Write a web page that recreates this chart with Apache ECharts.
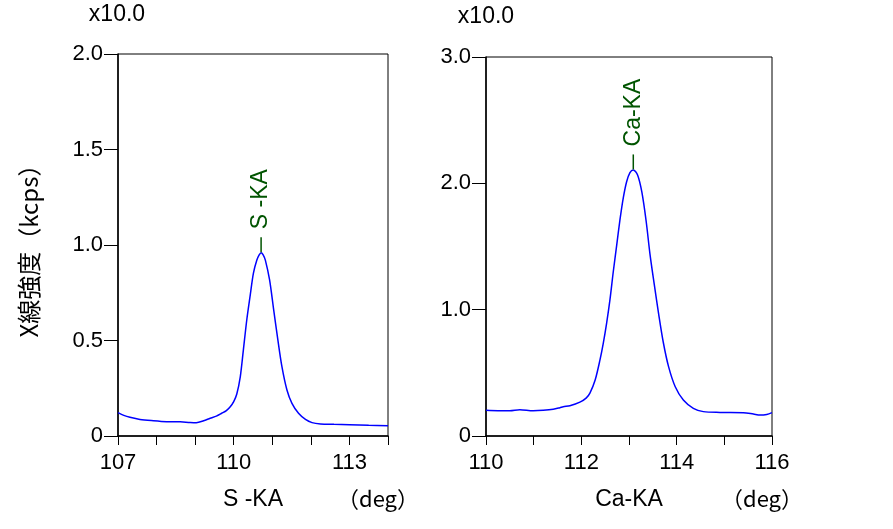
<!DOCTYPE html>
<html>
<head>
<meta charset="utf-8">
<script src="https://cdn.jsdelivr.net/npm/echarts@6/dist/echarts.min.js"></script>
<style>html,body{margin:0;padding:0;background:#fff;}#c{width:893px;height:529px;}</style>
</head>
<body>
<div id="c"></div>
<script>
// ---- data (intensity shown in units of x10.0 kcps) ----
const sAngle = [107.0,107.15,107.31,107.57,107.92,108.26,108.61,108.87,109.03,109.22,109.39,109.55,109.69,109.81,109.91,110.0,110.08,110.17,110.25,110.34,110.43,110.51,110.6,110.66,110.71,110.76,110.82,110.93,111.03,111.14,111.25,111.38,111.51,111.68,111.86,112.03,112.25,112.6,113.0,113.5,114.0];
const sIntensity = [0.122,0.108,0.098,0.087,0.080,0.075,0.074,0.071,0.070,0.080,0.093,0.104,0.119,0.133,0.153,0.180,0.220,0.310,0.45,0.610,0.74,0.852,0.921,0.948,0.960,0.950,0.921,0.817,0.67,0.51,0.363,0.241,0.171,0.119,0.087,0.070,0.063,0.061,0.059,0.056,0.054];
const caAngle = [110.0,110.25,110.5,110.71,110.99,111.2,111.41,111.55,111.62,111.76,111.97,112.1,112.18,112.29,112.39,112.46,112.53,112.6,112.67,112.74,112.81,112.88,112.95,113.02,113.09,113.18,113.27,113.36,113.44,113.53,113.62,113.72,113.83,113.97,114.14,114.35,114.56,114.91,115.4,115.61,115.75,115.89,116.0];
const caIntensity = [0.203,0.200,0.200,0.208,0.200,0.203,0.211,0.224,0.232,0.240,0.268,0.30,0.340,0.443,0.60,0.734,0.892,1.077,1.300,1.505,1.71,1.885,2.013,2.085,2.106,2.066,1.93,1.700,1.44,1.200,0.971,0.740,0.549,0.39,0.285,0.219,0.193,0.187,0.185,0.174,0.166,0.171,0.185];
const sPeak = [110.71, 0.960];
const caPeak = [113.09, 2.106];
const sPeakLabel = 'S -KA';
const caPeakLabel = 'Ca-KA';
const sXTickLabels = [107, 110, 113];
const caXTickLabels = [110, 112, 114, 116];
const sYTickLabels = ['0', '0.5', '1.0', '1.5', '2.0'];
const caYTickLabels = ['0', '1.0', '2.0', '3.0'];
const yTitle = 'X線強度（kcps）';
const scaleText = 'x10.0';
const sAxisName = 'S -KA';
const caAxisName = 'Ca-KA';
const unitText = '（deg）';

const FONT = '"Liberation Sans", "Noto Sans CJK JP", sans-serif';
const CJK = '"Noto Sans CJK JP", "Liberation Sans", sans-serif';
const GREEN = '#005400';

function zip(a, b) { return a.map((x, i) => [x, b[i]]); }

function xAxisCfg(gi, min, max, labels, name) {
  return {
    gridIndex: gi, type: 'value', min: min, max: max, interval: 1,
    axisLine: { lineStyle: { color: '#000', width: 1.5 } },
    axisTick: { show: true, length: 9, inside: false, lineStyle: { color: '#000', width: 1 } },
    splitLine: { show: false },
    axisLabel: {
      color: '#000', fontSize: 22, fontFamily: FONT, margin: 16,
      formatter: v => labels.indexOf(Math.round(v)) >= 0 ? String(Math.round(v)) : ''
    },
    name: name, nameLocation: 'middle', nameGap: 52,
    nameTextStyle: { color: '#000', fontSize: 23, fontFamily: FONT }
  };
}
function yAxisCfg(gi, max, interval, labels) {
  return {
    gridIndex: gi, type: 'value', min: 0, max: max, interval: interval,
    axisLine: { show: true, lineStyle: { color: '#000', width: 1.5 } },
    axisTick: { show: true, length: 14, inside: false, lineStyle: { color: '#000', width: 1 } },
    splitLine: { show: false },
    axisLabel: {
      color: '#000', fontSize: 22, fontFamily: FONT, margin: 15,
      formatter: v => labels[Math.round(v / interval)]
    }
  };
}
function markCfg(peak, text) {
  return {
    silent: true, animation: false,
    symbol: 'rect', symbolSize: [1.5, 15], symbolOffset: [0, -8],
    itemStyle: { color: GREEN },
    label: {
      show: true, position: 'top', distance: 8, rotate: 90,
      align: 'left', verticalAlign: 'middle',
      color: GREEN, fontSize: 23, fontFamily: FONT, formatter: text
    },
    data: [{ coord: peak }]
  };
}

const chart = echarts.init(document.getElementById('c'), null, { renderer: 'canvas' });
chart.setOption({
  animation: false,
  backgroundColor: '#fff',
  grid: [
    { left: 118, top: 54, width: 270, height: 382, show: true, borderColor: '#000', borderWidth: 1 },
    { left: 486, top: 57, width: 286, height: 379, show: true, borderColor: '#000', borderWidth: 1 }
  ],
  xAxis: [
    xAxisCfg(0, 107, 114, sXTickLabels, sAxisName),
    xAxisCfg(1, 110, 116, caXTickLabels, caAxisName)
  ],
  yAxis: [
    yAxisCfg(0, 2, 0.5, sYTickLabels),
    yAxisCfg(1, 3, 1, caYTickLabels)
  ],
  series: [
    { type: 'line', xAxisIndex: 0, yAxisIndex: 0, data: zip(sAngle, sIntensity), showSymbol: false,
      smooth: 0.3,
      lineStyle: { color: '#0000ff', width: 1.5 }, markPoint: markCfg(sPeak, sPeakLabel) },
    { type: 'line', xAxisIndex: 1, yAxisIndex: 1, data: zip(caAngle, caIntensity), showSymbol: false,
      smooth: 0.3,
      lineStyle: { color: '#0000ff', width: 1.5 }, markPoint: markCfg(caPeak, caPeakLabel) }
  ],
  graphic: [
    { type: 'text', x: 117, y: 15, style: { text: scaleText, font: '23px ' + FONT, fill: '#000', textAlign: 'center', textVerticalAlign: 'middle' } },
    { type: 'text', x: 486, y: 17, style: { text: scaleText, font: '23px ' + FONT, fill: '#000', textAlign: 'center', textVerticalAlign: 'middle' } },
    { type: 'text', x: 29, y: 245, rotation: Math.PI / 2,
      style: { text: yTitle, font: '24px ' + CJK, fill: '#000', textAlign: 'center', textVerticalAlign: 'middle' } },
    { type: 'text', x: 378, y: 499, style: { text: unitText, font: '22px ' + CJK, fill: '#000', textAlign: 'center', textVerticalAlign: 'middle' } },
    { type: 'text', x: 762, y: 499, style: { text: unitText, font: '22px ' + CJK, fill: '#000', textAlign: 'center', textVerticalAlign: 'middle' } }
  ]
});
</script>
</body>
</html>
